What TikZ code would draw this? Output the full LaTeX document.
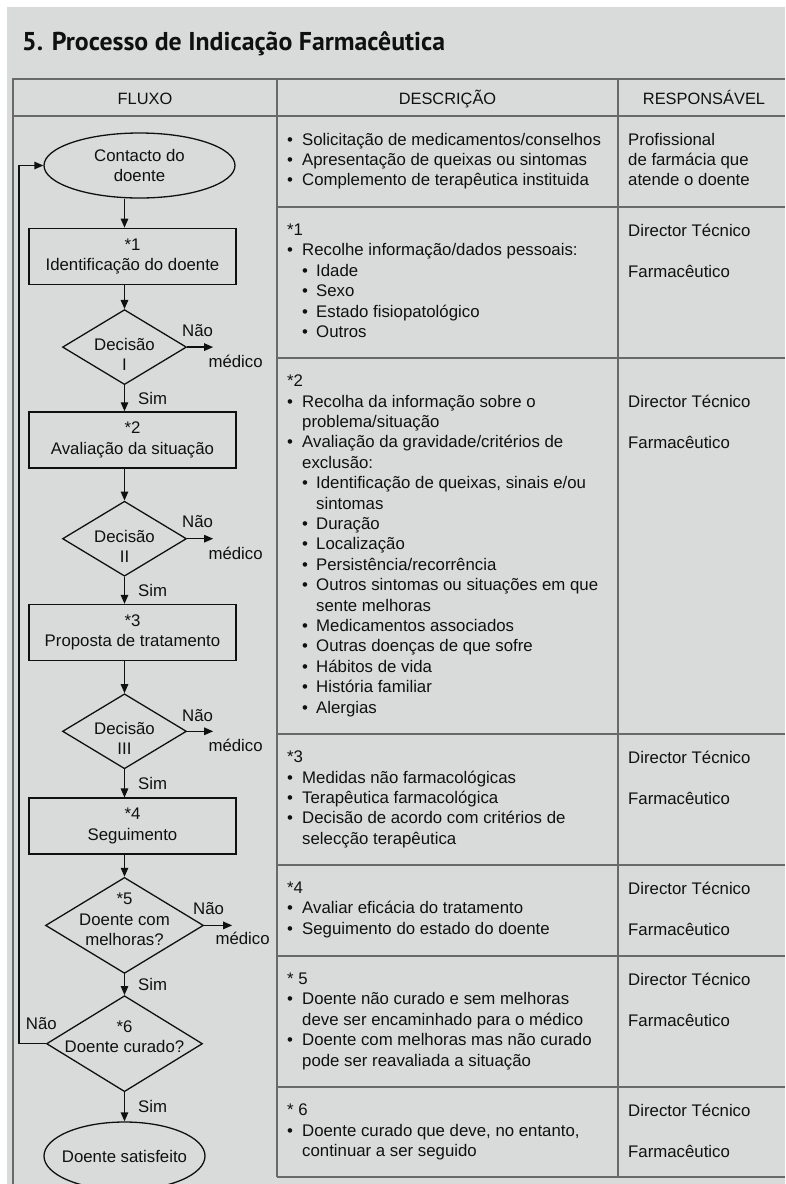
\documentclass[tikz,border=0pt]{standalone}
\usepackage{fontspec}
\setmainfont{Liberation Sans}
\newfontfamily\titlefont{PT Sans}
\usepackage{xcolor}
\usepackage{tikz}
\usetikzlibrary{shapes.geometric, arrows.meta, positioning}
\definecolor{panelgray}{RGB}{217,219,219}
\definecolor{rulegray}{RGB}{105,105,105}
\definecolor{inkblack}{RGB}{16,16,16}
\tikzstyle{flowbox} = [rectangle, draw=inkblack, line width=1.3pt,
minimum width=207pt, minimum height=56pt, inner sep=0pt, align=center]
\tikzstyle{decisionbox} = [diamond, draw=inkblack, line width=1.3pt,
minimum width=124pt, minimum height=75pt, inner sep=0pt]
\tikzstyle{termbox} = [ellipse, draw=inkblack, line width=1.3pt,
inner sep=0pt, align=center]
\tikzstyle{flowtext} = [inner sep=0pt, align=center]
\tikzstyle{answer} = [inner sep=0pt]
\tikzstyle{arrow} = [-{Triangle[length=9pt,width=7.5pt]}, line width=1.3pt, draw=inkblack]
\tikzstyle{cell} = [anchor=north west, inner sep=0pt, align=left,
execute at begin node=\strut]
\tikzstyle{headcell} = [anchor=base, inner sep=0pt, font=\fontsize{16.4}{20}\selectfont]
\tikzstyle{tablerule} = [draw=rulegray, line width=1.3pt]
\newcommand{\dbul}{\makebox[15pt][l]{\textbullet}}
\newcommand{\dsub}{\hspace*{15pt}\makebox[14pt][l]{\textbullet}}
\newcommand{\dcont}{\hspace*{15pt}}
\newcommand{\dsubcont}{\hspace*{29pt}}

\begin{document}
\begin{tikzpicture}[x=1pt, y=-1pt,
    every node/.style={text=inkblack, font=\fontsize{16.8}{20.4}\selectfont}]
    \useasboundingbox (0,0) rectangle (785,1184);
    \fill[white] (0,0) rectangle (785,1184);
    \fill[panelgray] (7,7) rectangle (785,1184);

    \node (title) [anchor=base west, inner sep=0pt,
        font=\titlefont\bfseries\fontsize{25.8}{30}\selectfont] at (22,50.5)
        {5. Processo de Indicação Farmacêutica};

    % table
    \draw[tablerule] (13,1184) -- (13,79) -- (785,79);
    \draw[tablerule] (13,116) -- (785,116);
    \draw[tablerule] (277,79) -- (277,1177);
    \draw[tablerule] (618,79) -- (618,1177);
    \draw[tablerule] (277,207) -- (785,207);
    \draw[tablerule] (277,358) -- (785,358);
    \draw[tablerule] (277,734) -- (785,734);
    \draw[tablerule] (277,865) -- (785,865);
    \draw[tablerule] (277,956) -- (785,956);
    \draw[tablerule] (277,1087) -- (785,1087);
    \draw[tablerule] (277,1177) -- (785,1177);

    \node (hflow) [headcell] at (145,104) {FLUXO};
    \node (hdesc) [headcell] at (447.5,104) {DESCRIÇÃO};
    \node (hresp) [headcell] at (704,104) {RESPONSÁVEL};

    % descricao
    \node (desc0) [cell] at (287,132.7) {\dbul Solicitação de medicamentos/conselhos\\
        \dbul Apresentação de queixas ou sintomas\\
        \dbul Complemento de terapêutica instituida};
    \node (desc1) [cell] at (287,223.7) {*1\\
        \dbul Recolhe informação/dados pessoais:\\
        \dsub Idade\\
        \dsub Sexo\\
        \dsub Estado fisiopatológico\\
        \dsub Outros};
    \node (desc2) [cell] at (287,374.7) {*2\\
        \dbul Recolha da informação sobre o\\
        \dcont problema/situação\\
        \dbul Avaliação da gravidade/critérios de\\
        \dcont exclusão:\\
        \dsub Identificação de queixas, sinais e/ou\\
        \dsubcont sintomas\\
        \dsub Duração\\
        \dsub Localização\\
        \dsub Persistência/recorrência\\
        \dsub Outros sintomas ou situações em que\\
        \dsubcont sente melhoras\\
        \dsub Medicamentos associados\\
        \dsub Outras doenças de que sofre\\
        \dsub Hábitos de vida\\
        \dsub História familiar\\
        \dsub Alergias};
    \node (desc3) [cell] at (287,750.7) {*3\\
        \dbul Medidas não farmacológicas\\
        \dbul Terapêutica farmacológica\\
        \dbul Decisão de acordo com critérios de\\
        \dcont selecção terapêutica};
    \node (desc4) [cell] at (287,881.7) {*4\\
        \dbul Avaliar eficácia do tratamento\\
        \dbul Seguimento do estado do doente};
    \node (desc5) [cell] at (287,972.7) {* 5\\
        \dbul Doente não curado e sem melhoras\\
        \dcont deve ser encaminhado para o médico\\
        \dbul Doente com melhoras mas não curado\\
        \dcont pode ser reavaliada a situação};
    \node (desc6) [cell] at (287,1103.7) {* 6\\
        \dbul Doente curado que deve, no entanto,\\
        \dcont continuar a ser seguido};

    % responsavel
    \node (resp0) [cell] at (628,132.7) {Profissional\\de farmácia que\\atende o doente};
    \node (resp1) [cell] at (628,223.7) {Director Técnico\\[20.4pt]Farmacêutico};
    \node (resp2) [cell] at (628,395.1) {Director Técnico\\[20.4pt]Farmacêutico};
    \node (resp3) [cell] at (628,750.7) {Director Técnico\\[20.4pt]Farmacêutico};
    \node (resp4) [cell] at (628,881.7) {Director Técnico\\[20.4pt]Farmacêutico};
    \node (resp5) [cell] at (628,972.7) {Director Técnico\\[20.4pt]Farmacêutico};
    \node (resp6) [cell] at (628,1103.7) {Director Técnico\\[20.4pt]Farmacêutico};

    % fluxo
    \coordinate (flowx) at (124.5,0);
    \coordinate (loopx) at (19,0);
    \node (contact) [termbox, minimum width=191pt, minimum height=65pt] at (139.5,165.5) {Contacto do\\doente};
    \node (ident)  [flowbox, below=29pt of contact, xshift=-7pt] {*1\\Identificação do doente};
    \node (dec1)   [decisionbox, below=24pt of ident, xshift=-8pt] {};
    \node (aval)   [flowbox, below=26pt of dec1, xshift=8pt] {*2\\Avaliação da situação};
    \node (dec2)   [decisionbox, below=32pt of aval, xshift=-8pt] {};
    \node (prop)   [flowbox, below=27pt of dec2, xshift=8pt] {*3\\Proposta de tratamento};
    \node (dec3)   [decisionbox, below=32pt of prop, xshift=-8pt] {};
    \node (segui)  [flowbox, below=28pt of dec3, xshift=8pt] {*4\\Seguimento};
    \node (dec5)   [decisionbox, minimum width=158pt, minimum height=96pt, below=22pt of segui, xshift=-8pt] {};
    \node (dec6)   [decisionbox, minimum width=156pt, minimum height=96pt, below=21pt of dec5] {};
    \node (satisf) [termbox, minimum width=161pt, minimum height=68pt, below=29pt of dec6] {};

    \node (dec1txt)   [flowtext, yshift=-7.5pt] at (dec1) {Decisão\\I};
    \node (dec2txt)   [flowtext, yshift=-7.5pt] at (dec2) {Decisão\\II};
    \node (dec3txt)   [flowtext, yshift=-7pt] at (dec3) {Decisão\\III};
    \node (dec5txt)   [flowtext, yshift=6pt] at (dec5) {*5\\Doente com\\melhoras?};
    \node (dec6txt)   [flowtext, yshift=7pt] at (dec6) {*6\\Doente curado?};
    \node (satisftxt) [flowtext] at (satisf) {Doente satisfeito};

    \coordinate[right=26pt of dec1.east] (med1);
    \coordinate[right=26pt of dec2.east] (med2);
    \coordinate[right=26pt of dec3.east] (med3);
    \coordinate[right=28pt of dec5.east] (med5);

    \draw[arrow] (contact.south -| flowx) -- (ident.north -| flowx);
    \draw[arrow] (ident.south -| flowx) -- (dec1.north);
    \draw[arrow] (dec1.south) -- node[answer, right=13pt] (sim1) {Sim} (aval.north -| flowx);
    \draw[arrow] (aval.south -| flowx) -- (dec2.north);
    \draw[arrow] (dec2.south) -- node[answer, right=13pt] (sim2) {Sim} (prop.north -| flowx);
    \draw[arrow] (prop.south -| flowx) -- (dec3.north);
    \draw[arrow] (dec3.south) -- node[answer, right=13pt] (sim3) {Sim} (segui.north -| flowx);
    \draw[arrow] (segui.south -| flowx) -- (dec5.north);
    \draw[arrow] (dec5.south) -- node[answer, right=13pt] (sim5) {Sim} (dec6.north);
    \draw[arrow] (dec6.south) -- node[answer, right=13pt] (sim6) {Sim} (satisf.north);
    \draw[arrow] (dec6.west) -- (dec6.west -| loopx) |- (contact.west);

    \draw[arrow] (dec1.east) -- (med1);
    \draw[arrow] (dec2.east) -- (med2);
    \draw[arrow] (dec3.east) -- (med3);
    \draw[arrow] (dec5.east) -- (med5);

    \node (nao1) [answer] at ([xshift=-15.5pt, yshift=17pt]med1) {Não};
    \node (medico1) [answer] at ([xshift=22.5pt, yshift=-14.5pt]med1) {médico};
    \node (nao2) [answer] at ([xshift=-15.5pt, yshift=17pt]med2) {Não};
    \node (medico2) [answer] at ([xshift=22.5pt, yshift=-14.5pt]med2) {médico};
    \node (nao3) [answer] at ([xshift=-15.5pt, yshift=16pt]med3) {Não};
    \node (medico3) [answer] at ([xshift=22.5pt, yshift=-14.5pt]med3) {médico};
    \node (nao5) [answer] at ([xshift=-23.5pt, yshift=17pt]med5) {Não};
    \node (medico5) [answer] at ([xshift=10.5pt, yshift=-13pt]med5) {médico};
    \node (nao6) [answer] at ([xshift=-4.5pt, yshift=20pt]dec6.west) {Não};
\end{tikzpicture}
\end{document}
